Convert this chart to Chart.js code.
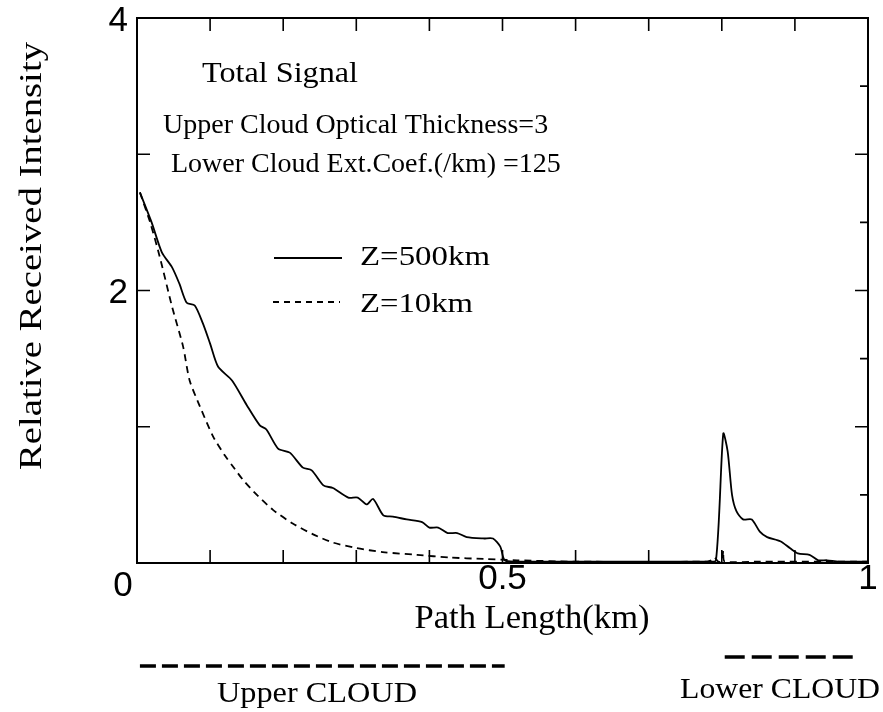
<!DOCTYPE html>
<html><head><meta charset="utf-8">
<script src="https://cdn.jsdelivr.net/npm/chart.js@4"></script>
<style>html,body{margin:0;padding:0;background:#fff}canvas{display:block}</style>
</head><body>
<canvas id="c" width="883" height="712"></canvas>
<script>
// ---- data ----
const pathLength500 = [0.004,0.02,0.034,0.048,0.058,0.068,0.079,0.09,0.1,0.111,0.13,0.15,0.168,0.177,0.193,0.209,0.227,0.239,0.255,0.268,0.289,0.302,0.314,0.323,0.337,0.35,0.369,0.39,0.40,0.412,0.425,0.438,0.451,0.474,0.487,0.497,0.503,0.52,0.6,0.7,0.78,0.792,0.802,0.808,0.814,0.82,0.829,0.841,0.852,0.862,0.88,0.893,0.904,0.92,0.932,0.944,0.96,1.0];
const intensity500 = [2.72,2.50,2.28,2.17,2.05,1.91,1.89,1.76,1.61,1.44,1.34,1.16,1.01,0.98,0.84,0.81,0.70,0.68,0.57,0.55,0.48,0.48,0.43,0.47,0.35,0.34,0.32,0.30,0.26,0.26,0.22,0.22,0.19,0.18,0.18,0.12,0.02,0.01,0.01,0.01,0.01,0.02,0.95,0.82,0.50,0.38,0.32,0.32,0.23,0.19,0.16,0.11,0.07,0.06,0.02,0.02,0.01,0.01];
const pathLength10 = [0.004,0.018,0.031,0.048,0.063,0.072,0.086,0.104,0.12,0.131,0.145,0.164,0.186,0.213,0.241,0.268,0.30,0.336,0.383,0.428,0.474,0.52,0.6,0.78,0.786,0.79,0.795,0.80,0.802,0.804,0.85,1.0];
const intensity10 = [2.72,2.50,2.25,1.88,1.59,1.34,1.15,0.93,0.79,0.71,0.61,0.50,0.39,0.29,0.21,0.15,0.11,0.08,0.06,0.04,0.03,0.02,0.01,0.01,0.02,0.04,0.01,0.01,0.09,0.01,0.01,0.01];
const seriesNames = ['Z=500km', 'Z=10km'];
const xLabelValues = [0.5, 1];
const yLabelValues = [2, 4];
const xMinorTicks = [0.1,0.2,0.3,0.4,0.5,0.6,0.7,0.8,0.9];
const yMinorTicks = [1,2,3];
const yRightTicks = [0.5,1,1.5,2,2.5,3,3.5];
const upperCloudExtent = [0.004, 0.503];
const lowerCloudExtent = [0.804, 0.982];
const titleLines = ['Total Signal', 'Upper Cloud Optical Thickness=3', 'Lower Cloud Ext.Coef.(/km) =125'];
const xTitle = 'Path Length(km)';
const yTitle = 'Relative Received Intensity';
const cloudNames = ['Upper CLOUD', 'Lower CLOUD'];

const SERIF = '"Liberation Serif", "Times New Roman", serif';
const SANS = '"Liberation Sans", Arial, sans-serif';

function pts(xs, ys) { return xs.map((x, i) => ({x: x, y: ys[i]})); }

function drawText(ctx, s, x, y, size, family, align, baseline, targetW) {
  ctx.save();
  ctx.font = size + 'px ' + family;
  ctx.textAlign = 'left';
  ctx.textBaseline = baseline || 'alphabetic';
  const w = ctx.measureText(s).width;
  const sx = targetW ? targetW / w : 1;
  let left = x;
  if (align === 'center') left = x - w * sx / 2;
  else if (align === 'right') left = x - w * sx;
  ctx.translate(left, y);
  ctx.scale(sx, 1);
  ctx.fillStyle = '#000';
  ctx.fillText(s, 0, 0);
  ctx.restore();
}

const decor = {
  id: 'decor',
  afterDraw(chart) {
    const ctx = chart.ctx, xs = chart.scales.x, ys = chart.scales.y;
    const L = xs.getPixelForValue(0), R = xs.getPixelForValue(1);
    const B = ys.getPixelForValue(0), T = ys.getPixelForValue(4);
    ctx.save();
    ctx.strokeStyle = '#000';
    ctx.lineWidth = 2;
    ctx.setLineDash([]);
    ctx.strokeRect(L, T, R - L, B - T);
    ctx.lineWidth = 1.6;
    ctx.beginPath();
    xMinorTicks.forEach(v => {
      const p = xs.getPixelForValue(v);
      ctx.moveTo(p, B); ctx.lineTo(p, B - 13);
      ctx.moveTo(p, T); ctx.lineTo(p, T + 13);
    });
    yMinorTicks.forEach(v => {
      const p = ys.getPixelForValue(v);
      ctx.moveTo(L, p); ctx.lineTo(L + 13, p);
    });
    yRightTicks.forEach(v => {
      const p = ys.getPixelForValue(v);
      const len = (v % 1 === 0) ? 13 : 8;
      ctx.moveTo(R, p); ctx.lineTo(R - len, p);
    });
    ctx.stroke();

    // tick labels
    drawText(ctx, '0', L - 14, B + 23, 35, SANS, 'center', 'middle');
    xLabelValues.forEach(v => drawText(ctx, String(v), xs.getPixelForValue(v), B + 16, 35, SANS, 'center', 'middle'));
    yLabelValues.forEach(v => drawText(ctx, String(v), L - 9, ys.getPixelForValue(v) + 3, 35, SANS, 'right', 'middle'));

    // axis titles
    drawText(ctx, xTitle, 415 + 117, B + 65, 33, SERIF, 'center', 'alphabetic', 235);
    ctx.save();
    ctx.translate(33, 256);
    ctx.rotate(-Math.PI / 2);
    drawText(ctx, yTitle, 0, 0, 31, SERIF, 'center', 'middle', 428);
    ctx.restore();

    // annotations
    drawText(ctx, titleLines[0], 202, 82, 30, SERIF, 'left', 'alphabetic', 156);
    drawText(ctx, titleLines[1], 163, 133, 28, SERIF, 'left', 'alphabetic');
    drawText(ctx, titleLines[2], 171, 172, 28, SERIF, 'left', 'alphabetic');

    // legend
    ctx.lineWidth = 2;
    ctx.beginPath(); ctx.moveTo(274, 258); ctx.lineTo(342, 258); ctx.stroke();
    ctx.setLineDash([6, 5]);
    ctx.beginPath(); ctx.moveTo(273, 302); ctx.lineTo(340, 302); ctx.stroke();
    ctx.setLineDash([]);
    drawText(ctx, seriesNames[0], 360, 265, 27, SERIF, 'left', 'alphabetic', 130);
    drawText(ctx, seriesNames[1], 360, 312, 27, SERIF, 'left', 'alphabetic', 113);

    // cloud extents below axis
    ctx.lineWidth = 3.5;
    ctx.setLineDash([16, 6]);
    ctx.beginPath();
    ctx.moveTo(xs.getPixelForValue(upperCloudExtent[0]), 666);
    ctx.lineTo(xs.getPixelForValue(upperCloudExtent[1]), 666);
    ctx.stroke();
    ctx.setLineDash([20, 7]);
    ctx.beginPath();
    ctx.moveTo(xs.getPixelForValue(lowerCloudExtent[0]), 657);
    ctx.lineTo(xs.getPixelForValue(lowerCloudExtent[1]), 657);
    ctx.stroke();
    ctx.setLineDash([]);
    drawText(ctx, cloudNames[0], 217, 702, 30, SERIF, 'left', 'alphabetic', 200);
    drawText(ctx, cloudNames[1], 680, 698, 30, SERIF, 'left', 'alphabetic', 200);
    ctx.restore();
  }
};

new Chart(document.getElementById('c'), {
  type: 'line',
  data: {
    datasets: [
      { label: seriesNames[0], data: pts(pathLength500, intensity500), borderColor: '#000', borderWidth: 1.8, pointRadius: 0, tension: 0.25, fill: false },
      { label: seriesNames[1], data: pts(pathLength10, intensity10), borderColor: '#000', borderWidth: 1.8, borderDash: [7, 5], pointRadius: 0, tension: 0.25, fill: false }
    ]
  },
  options: {
    responsive: false,
    animation: false,
    devicePixelRatio: 1,
    layout: { padding: { left: 137, right: 15, top: 18, bottom: 149 } },
    scales: {
      x: { type: 'linear', min: 0, max: 1, display: false },
      y: { type: 'linear', min: 0, max: 4, display: false }
    },
    plugins: { legend: { display: false }, tooltip: { enabled: false } }
  },
  plugins: [decor]
});
</script>
</body></html>
